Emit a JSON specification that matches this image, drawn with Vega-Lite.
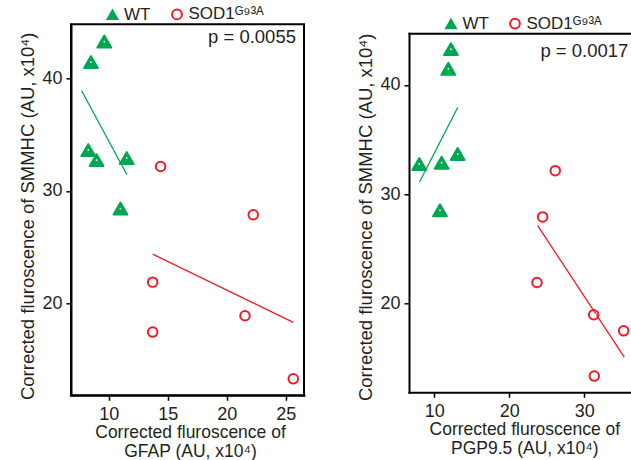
{
  "$schema": "https://vega.github.io/schema/vega-lite/v6.json",
  "padding": {"left": 17, "top": 4.3, "right": 0, "bottom": 0},
  "background": "white",
  "config": {
    "font": "Liberation Sans",
    "view": {"stroke": "#000000", "strokeWidth": 2},
    "axis": {
      "domainColor": "#000000", "domainWidth": 2, "domainCap": "square",
      "tickColor": "#000000", "tickWidth": 1.5, "tickSize": 5,
      "labelFont": "Liberation Sans", "labelFontSize": 18, "labelColor": "#231f20",
      "titleFont": "Liberation Sans", "titleFontSize": 18.5, "titleFontWeight": "normal", "titleColor": "#231f20",
      "grid": false, "labelFlush": false, "labelOverlap": false
    },
    "axisX": {"labelPadding": 5, "titlePadding": 0.5, "titleFontSize": 17.5, "titleLineHeight": 19},
    "axisY": {"labelPadding": 4, "titlePadding": 4.5},
    "legend": {
      "labelFont": "Liberation Sans", "labelFontSize": 17, "labelColor": "#231f20",
      "symbolSize": 95, "symbolStrokeWidth": 2, "symbolOpacity": 1,
      "labelOffset": 3, "padding": 0
    }
  },
  "datasets": {
    "ptsL": [
      {"group": "WT", "x": 9.63, "y": 43.24},
      {"group": "WT", "x": 8.5, "y": 41.42},
      {"group": "WT", "x": 8.27, "y": 33.62},
      {"group": "WT", "x": 8.98, "y": 32.73},
      {"group": "WT", "x": 11.53, "y": 32.91},
      {"group": "WT", "x": 11.0, "y": 28.44},
      {"group": "SOD1ᴳ⁹³ᴬ", "x": 14.4, "y": 32.17},
      {"group": "SOD1ᴳ⁹³ᴬ", "x": 22.25, "y": 27.89},
      {"group": "SOD1ᴳ⁹³ᴬ", "x": 13.73, "y": 21.92},
      {"group": "SOD1ᴳ⁹³ᴬ", "x": 13.73, "y": 17.49},
      {"group": "SOD1ᴳ⁹³ᴬ", "x": 21.55, "y": 18.94},
      {"group": "SOD1ᴳ⁹³ᴬ", "x": 25.64, "y": 13.35}
    ],
    "lineL": [
      {"group": "WT", "x": 7.71, "y": 38.88},
      {"group": "WT", "x": 11.55, "y": 31.44},
      {"group": "SOD1ᴳ⁹³ᴬ", "x": 13.73, "y": 24.4},
      {"group": "SOD1ᴳ⁹³ᴬ", "x": 25.64, "y": 18.35}
    ],
    "ptsR": [
      {"group": "WT", "x": 12.22, "y": 43.26},
      {"group": "WT", "x": 11.87, "y": 41.46},
      {"group": "WT", "x": 8.0, "y": 32.76},
      {"group": "WT", "x": 10.98, "y": 32.88},
      {"group": "WT", "x": 13.12, "y": 33.67},
      {"group": "WT", "x": 10.76, "y": 28.52},
      {"group": "SOD1ᴳ⁹³ᴬ", "x": 26.13, "y": 32.15},
      {"group": "SOD1ᴳ⁹³ᴬ", "x": 24.45, "y": 27.92},
      {"group": "SOD1ᴳ⁹³ᴬ", "x": 23.69, "y": 21.92},
      {"group": "SOD1ᴳ⁹³ᴬ", "x": 31.25, "y": 18.97},
      {"group": "SOD1ᴳ⁹³ᴬ", "x": 35.25, "y": 17.5},
      {"group": "SOD1ᴳ⁹³ᴬ", "x": 31.33, "y": 13.36}
    ],
    "lineR": [
      {"group": "WT", "x": 8.05, "y": 31.14},
      {"group": "WT", "x": 13.12, "y": 37.93},
      {"group": "SOD1ᴳ⁹³ᴬ", "x": 23.79, "y": 27.12},
      {"group": "SOD1ᴳ⁹³ᴬ", "x": 35.33, "y": 15.1}
    ]
  },
  "spacing": 51,
  "resolve": {
    "scale": {"shape": "independent", "fill": "independent", "stroke": "independent", "size": "independent", "color": "independent"},
    "legend": {"shape": "independent", "fill": "independent", "stroke": "independent", "size": "independent", "color": "independent"}
  },
  "hconcat": [
    {
      "width": 233,
      "height": 371,
      "layer": [
        {
          "data": {"name": "lineL"},
          "mark": {"type": "line", "strokeWidth": 1.3},
          "encoding": {
            "x": {"field": "x", "type": "quantitative", "scale": {"domain": [6.81, 26.55], "nice": false, "zero": false}},
            "y": {"field": "y", "type": "quantitative", "scale": {"domain": [11.89, 44.77], "nice": false, "zero": false}},
            "color": {"field": "group", "type": "nominal", "scale": {"domain": ["SOD1ᴳ⁹³ᴬ", "WT"], "range": ["#ed1c24", "#00a651"]}, "legend": null}
          }
        },
        {
          "data": {"name": "ptsL"},
          "mark": {"type": "point", "opacity": 1, "strokeWidth": 2, "strokeJoin": "round"},
          "encoding": {
            "x": {"field": "x", "type": "quantitative", "scale": {"domain": [6.81, 26.55], "nice": false, "zero": false},
                  "axis": {"values": [10, 15, 20, 25], "title": ["Corrected fluroscence of", "GFAP (AU, x10⁴)"], "titleX": 119}},
            "y": {"field": "y", "type": "quantitative", "scale": {"domain": [11.89, 44.77], "nice": false, "zero": false},
                  "axis": {"values": [20, 30, 40], "title": "Corrected fluroscence of SMMHC (AU, x10⁴)", "titleY": 191.5}},
            "shape": {"field": "group", "type": "nominal", "scale": {"domain": ["WT", "SOD1ᴳ⁹³ᴬ"], "range": ["triangle-up", "circle"]},
                      "legend": {"title": null, "orient": "none", "legendX": 33, "legendY": -18.7, "direction": "horizontal", "columns": 2, "columnPadding": 16.5}},
            "fill": {"field": "group", "type": "nominal", "scale": {"domain": ["WT", "SOD1ᴳ⁹³ᴬ"], "range": ["#00a651", "transparent"]},
                     "legend": {"title": null, "orient": "none", "legendX": 33, "legendY": -18.7, "direction": "horizontal", "columns": 2, "columnPadding": 16.5}},
            "stroke": {"field": "group", "type": "nominal", "scale": {"domain": ["WT", "SOD1ᴳ⁹³ᴬ"], "range": ["#00a651", "#ed1c24"]},
                       "legend": {"title": null, "orient": "none", "legendX": 33, "legendY": -18.7, "direction": "horizontal", "columns": 2, "columnPadding": 16.5}},
            "size": {"field": "group", "type": "nominal", "scale": {"type": "ordinal", "domain": ["SOD1ᴳ⁹³ᴬ", "WT"], "range": [90, 190]}, "legend": null}
          }
        },
        {
          "data": {"name": "ptsL"},
          "transform": [{"filter": "datum.group == 'WT'"}],
          "mark": {"type": "point", "shape": "circle", "filled": true, "fill": "#ffffff", "size": 3, "opacity": 1, "strokeWidth": 0},
          "encoding": {
            "x": {"field": "x", "type": "quantitative"},
            "y": {"field": "y", "type": "quantitative"}
          }
        },
        {
          "data": {"name": "ptsL"},
          "transform": [{"filter": "datum.group != 'WT'"}],
          "mark": {"type": "point", "shape": "stroke", "filled": false, "stroke": "#ffffff", "strokeWidth": 1.5, "size": 30, "opacity": 1},
          "encoding": {
            "x": {"field": "x", "type": "quantitative"},
            "y": {"field": "y", "type": "quantitative"}
          }
        },
        {
          "data": {"values": [{"label": "p = 0.0055"}]},
          "mark": {"type": "text", "align": "right", "baseline": "alphabetic", "fontSize": 18.5, "color": "#231f20", "font": "Liberation Sans"},
          "encoding": {
            "x": {"datum": 25.87},
            "y": {"datum": 43.1},
            "text": {"field": "label"}
          }
        }
      ]
    },
    {
      "spacing": 0,
      "bounds": "flush",
      "resolve": {
        "scale": {"shape": "independent", "fill": "independent", "stroke": "independent", "size": "independent", "color": "independent"},
        "legend": {"shape": "independent", "fill": "independent", "stroke": "independent", "size": "independent", "color": "independent"}
      },
      "vconcat": [
        {
          "width": 1,
          "height": 9,
          "view": {"stroke": null},
          "data": {"values": []},
          "mark": "point",
          "encoding": {}
        },
        {
          "width": 223,
          "height": 359,
          "view": {"stroke": null},
          "resolve": {"axis": {"x": "independent"}},
          "layer": [
            {
              "data": {"name": "lineR"},
              "mark": {"type": "line", "strokeWidth": 1.3},
              "encoding": {
                "x": {"field": "x", "type": "quantitative", "scale": {"domain": [6.63, 36.36], "nice": false, "zero": false},
                      "axis": {"orient": "top", "labels": false, "ticks": false, "title": null, "domain": true}},
                "y": {"field": "y", "type": "quantitative", "scale": {"domain": [11.88, 44.71], "nice": false, "zero": false}},
                "color": {"field": "group", "type": "nominal", "scale": {"domain": ["SOD1ᴳ⁹³ᴬ", "WT"], "range": ["#ed1c24", "#00a651"]}, "legend": null}
              }
            },
            {
              "data": {"name": "ptsR"},
              "mark": {"type": "point", "opacity": 1, "strokeWidth": 2, "strokeJoin": "round"},
              "encoding": {
                "x": {"field": "x", "type": "quantitative", "scale": {"domain": [6.63, 36.36], "nice": false, "zero": false},
                      "axis": {"values": [10, 20, 30], "title": ["Corrected fluroscence of", "PGP9.5 (AU, x10⁴)"], "titleX": 115.3}},
                "y": {"field": "y", "type": "quantitative", "scale": {"domain": [11.88, 44.71], "nice": false, "zero": false},
                      "axis": {"values": [20, 30, 40], "title": "Corrected fluroscence of SMMHC (AU, x10⁴)", "titleY": 183.5}},
                "shape": {"field": "group", "type": "nominal", "scale": {"domain": ["WT", "SOD1ᴳ⁹³ᴬ"], "range": ["triangle-up", "circle"]},
                          "legend": {"title": null, "orient": "none", "legendX": 33.5, "legendY": -18.5, "direction": "horizontal", "columns": 2, "columnPadding": 16}},
                "fill": {"field": "group", "type": "nominal", "scale": {"domain": ["WT", "SOD1ᴳ⁹³ᴬ"], "range": ["#00a651", "transparent"]},
                         "legend": {"title": null, "orient": "none", "legendX": 33.5, "legendY": -18.5, "direction": "horizontal", "columns": 2, "columnPadding": 16}},
                "stroke": {"field": "group", "type": "nominal", "scale": {"domain": ["WT", "SOD1ᴳ⁹³ᴬ"], "range": ["#00a651", "#ed1c24"]},
                           "legend": {"title": null, "orient": "none", "legendX": 33.5, "legendY": -18.5, "direction": "horizontal", "columns": 2, "columnPadding": 16}},
                "size": {"field": "group", "type": "nominal", "scale": {"type": "ordinal", "domain": ["SOD1ᴳ⁹³ᴬ", "WT"], "range": [90, 190]}, "legend": null}
              }
            },
            {
              "data": {"name": "ptsR"},
              "transform": [{"filter": "datum.group == 'WT'"}],
              "mark": {"type": "point", "shape": "circle", "filled": true, "fill": "#ffffff", "size": 3, "opacity": 1, "strokeWidth": 0},
              "encoding": {
                "x": {"field": "x", "type": "quantitative", "axis": null},
                "y": {"field": "y", "type": "quantitative"}
              }
            },
            {
              "data": {"name": "ptsR"},
              "transform": [{"filter": "datum.group != 'WT'"}],
              "mark": {"type": "point", "shape": "stroke", "filled": false, "stroke": "#ffffff", "strokeWidth": 1.5, "size": 30, "opacity": 1},
              "encoding": {
                "x": {"field": "x", "type": "quantitative", "axis": null},
                "y": {"field": "y", "type": "quantitative"}
              }
            },
            {
              "data": {"values": [{"label": "p = 0.0017"}]},
              "mark": {"type": "text", "align": "right", "baseline": "alphabetic", "fontSize": 18.5, "color": "#231f20", "font": "Liberation Sans"},
              "encoding": {
                "x": {"datum": 35.87, "axis": null},
                "y": {"datum": 42.58},
                "text": {"field": "label"}
              }
            }
          ]
        }
      ]
    }
  ]
}
